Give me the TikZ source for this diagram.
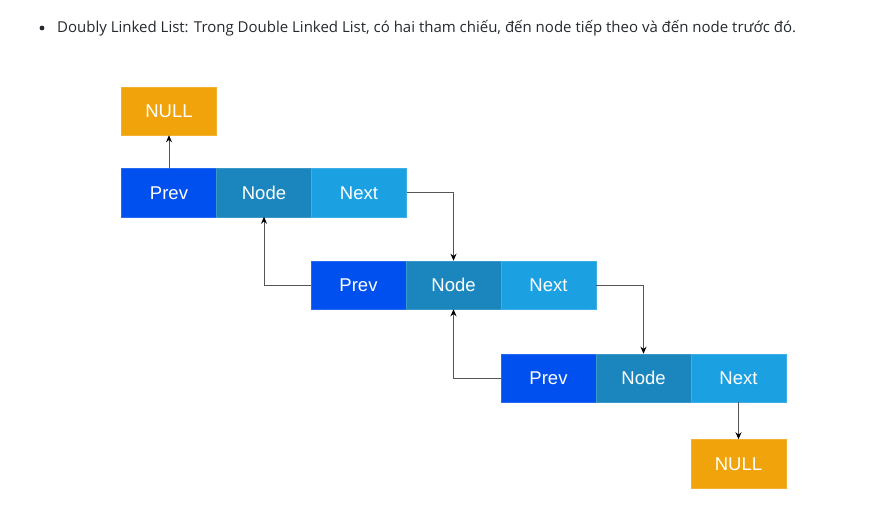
\documentclass[tikz,border=0pt]{standalone}
\usepackage{fontspec}
\setmainfont{Liberation Sans}
\newfontfamily\notefont{Open Sans}
\usetikzlibrary{positioning,arrows.meta}
\definecolor{prevblue}{HTML}{0050EF}
\definecolor{nodeblue}{HTML}{1A86BD}
\definecolor{nextblue}{HTML}{1BA1E2}
\definecolor{nullamber}{HTML}{F0A30A}
\definecolor{linkgray}{HTML}{555555}
\definecolor{textgray}{HTML}{24292E}
\tikzset{
  cell/.style={minimum width=95pt, minimum height=48.5pt, inner sep=0pt, outer sep=0pt,
    text height=13.2pt, text depth=0pt,
    text=white, font=\fontsize{18.5}{22}\selectfont, draw=#1!85!white, fill=#1},
  link/.style={draw=linkgray, line width=0.9pt, -{Stealth[length=7pt,width=6pt,black]}},
}
\begin{document}
\begin{tikzpicture}[x=1pt,y=-1pt]
\useasboundingbox (0,0) rectangle (888,521);
% caption line
\fill[textgray] (42,28) circle (2.4pt);
\node[anchor=base west, inner sep=0pt, text=textgray, font=\notefont\fontsize{15}{18}\selectfont]
  (caption) at (57,32.5) {Doubly Linked List: Trong Double Linked List, có hai tham chiếu, đến node tiếp theo và đến node trước đó.};

% list rows
\foreach \r/\x/\y in {1/169/192.5, 2/358.5/285, 3/548.5/378} {
  \node[cell=prevblue] (prev\r) at (\x,\y) {Prev};
  \node[cell=nodeblue, right=0pt of prev\r] (node\r) {Node};
  \node[cell=nextblue, right=0pt of node\r] (next\r) {Next};
}
\node[cell=nullamber, above=33pt of prev1] (null1) {NULL};
\node[cell=nullamber, below=37pt of next3] (null2) {NULL};

% links
\draw[link] (prev1.north) -- (null1.south);
\draw[link] (next1.east) -| (node2.north);
\draw[link] (prev2.west) -| (node1.south);
\draw[link] (next2.east) -| (node3.north);
\draw[link] (prev3.west) -| (node2.south);
\draw[link] (next3.south) -- (null2.north);
\end{tikzpicture}
\end{document}
